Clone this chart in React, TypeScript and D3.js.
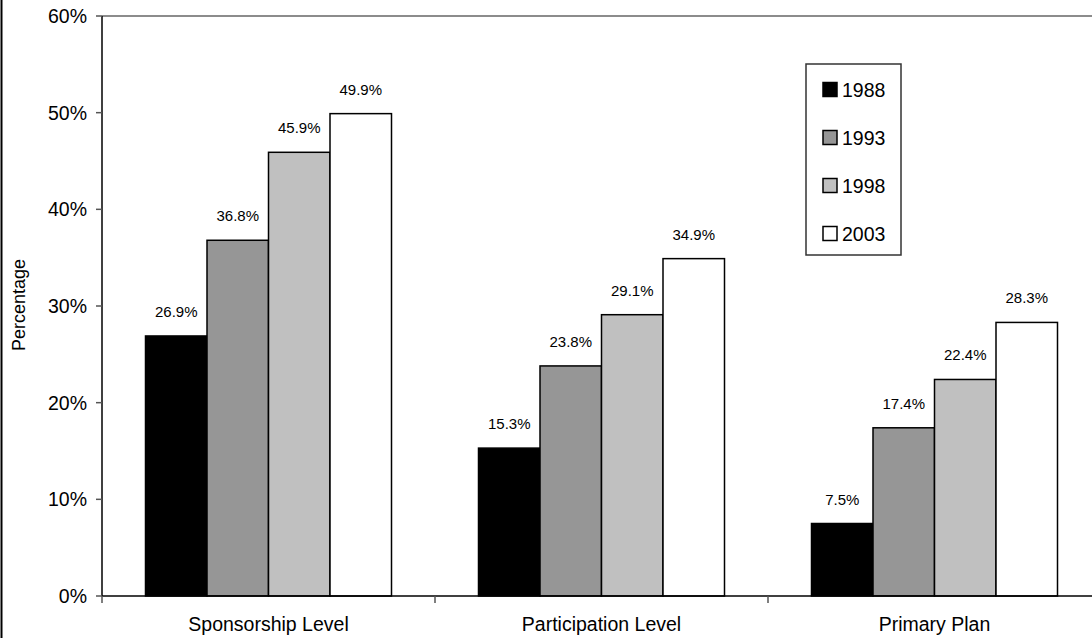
import React from "react";
import * as d3 from "d3";

const categories = ["Sponsorship Level", "Participation Level", "Primary Plan"];
const seriesNames = ["1988", "1993", "1998", "2003"];
const values1988 = [26.9, 15.3, 7.5];
const values1993 = [36.8, 23.8, 17.4];
const values1998 = [45.9, 29.1, 22.4];
const values2003 = [49.9, 34.9, 28.3];
const seriesValues = [values1988, values1993, values1998, values2003];
const seriesColors = ["#000000", "#969696", "#c0c0c0", "#ffffff"];
const yTicks = [0, 10, 20, 30, 40, 50, 60];

const W = 1092;
const H = 638;
const FONT = "'Liberation Sans', Arial, Helvetica, sans-serif";

export default function App() {
  const left = 102;
  const top = 16;
  const bottom = 596;
  const right = 1101;

  const x = d3.scaleBand<string>().domain(categories).range([left, right]).paddingInner(0).paddingOuter(0);
  const groupPad = 43.5;
  const xs = d3
    .scaleBand<string>()
    .domain(seriesNames)
    .range([groupPad, x.bandwidth() - groupPad])
    .padding(0);
  const y = d3.scaleLinear().domain([0, 60]).range([bottom, top]);
  const fmt = (v: number) => `${v.toFixed(1)}%`;

  const boundaries = [left, ...categories.map((c) => (x(c) as number) + x.bandwidth())];

  return (
    <svg
      width={W}
      height={H}
      style={{ position: "absolute", left: 0, top: 0, background: "#fff" }}
      fontFamily={FONT}
    >
      {/* chart frame edge */}
      <line x1={1.5} x2={1.5} y1={0} y2={H} stroke="#000" strokeWidth={2} />

      {/* top gridline */}
      <line x1={left} x2={W} y1={y(60)} y2={y(60)} stroke="#8c8c8c" strokeWidth={2} />

      {/* bars */}
      {seriesNames.map((s, si) =>
        categories.map((c, ci) => {
          const v = seriesValues[si][ci];
          const bx = (x(c) as number) + (xs(s) as number);
          const by = y(v);
          return (
            <g key={`${s}-${c}`}>
              <rect
                x={bx}
                y={by}
                width={xs.bandwidth()}
                height={bottom - by}
                fill={seriesColors[si]}
                stroke="#000"
                strokeWidth={1.5}
              />
              <text
                x={bx + xs.bandwidth() / 2}
                y={by - 19}
                textAnchor="middle"
                fontSize={15}
                fill="#000"
              >
                {fmt(v)}
              </text>
            </g>
          );
        })
      )}

      {/* y axis */}
      <line x1={left} x2={left} y1={top} y2={bottom} stroke="#000" strokeWidth={1.5} />
      {yTicks.map((t) => (
        <g key={t}>
          <line x1={left - 6} x2={left} y1={y(t)} y2={y(t)} stroke="#555" strokeWidth={1.5} />
          <text x={87} y={y(t)} dy="0.36em" textAnchor="end" fontSize={19.5} fill="#000">
            {`${t}%`}
          </text>
        </g>
      ))}

      {/* x axis */}
      <line x1={left} x2={W} y1={bottom} y2={bottom} stroke="#000" strokeWidth={1.5} />
      {boundaries.map((b, i) => (
        <line key={i} x1={b} x2={b} y1={bottom} y2={bottom + 7} stroke="#555" strokeWidth={1.5} />
      ))}
      {categories.map((c) => (
        <text
          key={c}
          x={(x(c) as number) + x.bandwidth() / 2}
          y={631}
          textAnchor="middle"
          fontSize={19.5}
          fill="#000"
        >
          {c}
        </text>
      ))}

      {/* y axis title */}
      <text
        transform={`translate(25, 305) rotate(-90)`}
        textAnchor="middle"
        fontSize={18}
        fill="#000"
      >
        Percentage
      </text>

      {/* legend */}
      <rect x={806} y={64} width={95} height={191} fill="#fff" stroke="#333" strokeWidth={1.5} />
      {seriesNames.map((s, i) => {
        const cy = 89.5 + i * 48;
        return (
          <g key={s}>
            <rect x={823} y={cy - 7} width={14} height={14} fill={seriesColors[i]} stroke="#000" strokeWidth={1.5} />
            <text x={842} y={cy} dy="0.36em" fontSize={19.5} fill="#000">
              {s}
            </text>
          </g>
        );
      })}
    </svg>
  );
}
